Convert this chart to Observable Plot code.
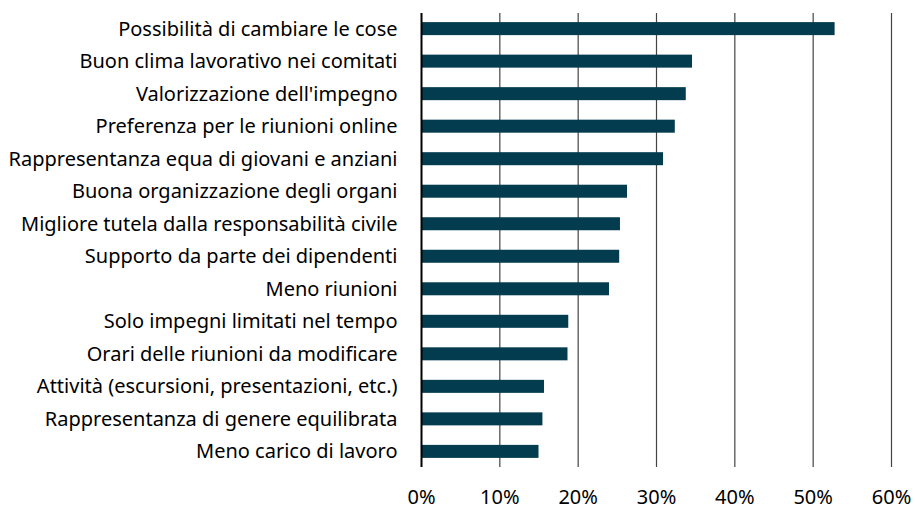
<!DOCTYPE html>
<html><head><meta charset="utf-8">
<script src="https://cdn.jsdelivr.net/npm/d3@7"></script>
<script src="https://cdn.jsdelivr.net/npm/@observablehq/plot@0.6"></script>
<style>body{margin:0;background:#fff}</style>
</head><body><div id="chart"></div>
<script>
const categories = [
  "Possibilità di cambiare le cose",
  "Buon clima lavorativo nei comitati",
  "Valorizzazione dell'impegno",
  "Preferenza per le riunioni online",
  "Rappresentanza equa di giovani e anziani",
  "Buona organizzazione degli organi",
  "Migliore tutela dalla responsabilità civile",
  "Supporto da parte dei dipendenti",
  "Meno riunioni",
  "Solo impegni limitati nel tempo",
  "Orari delle riunioni da modificare",
  "Attività (escursioni, presentazioni, etc.)",
  "Rappresentanza di genere equilibrata",
  "Meno carico di lavoro"
];
const values = [0.528, 0.346, 0.338, 0.324, 0.309, 0.263, 0.254, 0.253, 0.240, 0.188, 0.187, 0.157, 0.155, 0.150];
const xTicks = [0, 0.1, 0.2, 0.3, 0.4, 0.5, 0.6];

const data = categories.map((c, i) => ({category: c, value: values[i]}));

const chart = Plot.plot({
  width: 915,
  height: 509,
  marginLeft: 421,
  marginRight: 24,
  marginTop: 13,
  marginBottom: 42,
  style: {fontFamily: "'Noto Sans', sans-serif", fontSize: "20px", color: "#000"},
  x: {domain: [0, 0.6], ticks: xTicks, tickFormat: d => Math.round(d * 100) + "%", label: null},
  y: {domain: categories, paddingInner: 0.6, paddingOuter: 0.28, round: false, label: null},
  marks: [
    Plot.gridX(xTicks.slice(1), {stroke: "#444", strokeOpacity: 1, strokeWidth: 1.2}),
    Plot.barX(data, {x: "value", y: "category", fill: "#033b4f"}),
    Plot.ruleX([0], {stroke: "#000", strokeWidth: 2}),
    Plot.axisX({ticks: xTicks, tickSize: 0, tickPadding: 22, tickFormat: d => Math.round(d * 100) + "%", label: null, fontSize: 20}),
    Plot.axisY({tickSize: 0, tickPadding: 24, label: null, fontSize: 20})
  ]
});
document.getElementById("chart").appendChild(chart);
</script>
</body></html>
